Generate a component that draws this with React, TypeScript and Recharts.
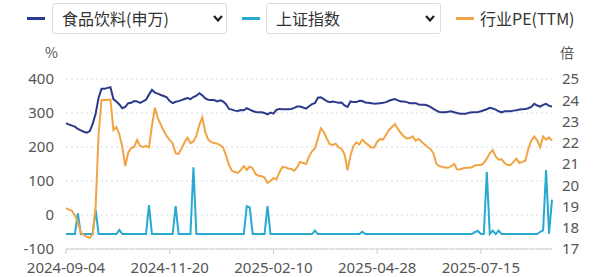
import { LineChart, Line, XAxis, YAxis, CartesianGrid } from 'recharts';

// x axis: one point per ~1.5 trading days, labels every 35 points
const tickLabels = ['2024-09-04', '2024-11-20', '2025-02-10', '2025-04-28', '2025-07-15'];
const tickIndex = [0, 35, 70, 105, 140];
const leftTicks = [-100, 0, 100, 200, 300, 400];
const rightTicks = [17, 18, 19, 20, 21, 22, 23, 24, 25];

// 食品饮料(申万), left axis (%)
const foodIndex = [
  270, 266, 263, 260, 253, 249, 245, 242, 246, 268,
  298, 345, 371, 371, 374, 376, 341, 334, 325, 314,
  318, 329, 330, 335, 334, 330, 334, 339, 354, 368,
  360, 357, 353, 350, 346, 335, 329, 333, 335, 338,
  341, 344, 341, 347, 351, 358, 352, 343, 339, 338,
  338, 334, 337, 334, 326, 312, 310, 307, 306, 309,
  308, 314, 310, 306, 303, 302, 302, 300, 296, 301,
  298, 309, 312, 311, 311, 311, 312, 315, 319, 319,
  316, 313, 320, 326, 329, 345, 346, 341, 335, 332,
  334, 332, 330, 331, 322, 318, 334, 332, 332, 336,
  335, 331, 330, 329, 327, 328, 329, 330, 332, 336,
  339, 341, 337, 334, 334, 332, 329, 329, 329, 325,
  324, 324, 322, 318, 312, 307, 303, 302, 302, 304,
  305, 302, 300, 298, 298, 298, 301, 302, 302, 303,
  305, 308, 311, 315, 313, 310, 305, 302, 305, 305,
  305, 307, 308, 310, 311, 312, 314, 318, 327, 322,
  319, 324, 327, 321, 319,
];

// 上证指数, left axis (%)
const shIndex = [
  -56, -56, -56, -56, 5, -56, -56, -56, -56, -56,
  16, -56, -56, -56, -56, -56, -56, -56, -44, -56,
  -56, -56, -56, -56, -56, -56, -56, -56, 29, -56,
  -56, -56, -56, -56, -56, -56, -56, 26, -56, -56,
  -56, -56, -56, 140, -56, -56, -56, -56, -56, -56,
  -56, -56, -56, -56, -56, -56, -56, -56, -56, -56,
  -56, 26, 22, -56, -56, -56, -56, -56, 26, -56,
  -56, -56, -56, -56, -56, -56, -56, -56, -56, -56,
  -56, -56, -56, -56, -46, -56, -56, -56, -56, -56,
  -56, -56, -56, -56, -56, -56, -56, -56, -56, -56,
  -49, -56, -56, -56, -56, -56, -56, -56, -56, -56,
  -56, -56, -56, -56, -56, -56, -56, -56, -56, -56,
  -56, -56, -56, -56, -56, -56, -56, -56, -56, -56,
  -56, -56, -56, -56, -56, -56, -56, -56, -50, -47,
  -56, -56, 127, -56, -46, -56, -46, -56, -56, -56,
  -56, -56, -56, -56, -56, -56, -56, -56, -56, -56,
  -50, -45, 132, -55, 45,
];

// 行业PE(TTM), right axis (倍)
const industryPE = [
  18.92, 18.85, 18.8, 18.58, 18.25, 17.78, 17.65, 17.58, 17.52, 17.7,
  19.0, 22.4, 24.01, 24.01, 24.01, 24.03, 22.6, 22.74, 22.4, 21.8,
  20.9, 21.55, 21.75, 21.8, 22.13, 21.85, 21.8, 21.85, 21.78, 22.8,
  23.65, 23.15, 22.85, 22.55, 22.32, 22.12, 21.97, 21.5, 21.48, 21.73,
  22.02, 22.24, 21.98, 22.06, 22.33, 22.84, 23.2, 22.5, 22.15, 22.03,
  21.99, 21.96, 21.89, 21.78, 21.4, 20.95, 20.68, 20.62, 20.58, 20.72,
  20.9, 20.72, 20.88, 20.8, 20.52, 20.45, 20.42, 20.36, 20.1, 20.2,
  20.33, 20.28, 20.6, 20.86, 20.85, 20.78, 20.78, 20.68, 20.85, 21.1,
  21.05, 21.0, 21.35, 21.6, 21.74, 22.2, 22.68, 22.5, 22.2, 21.93,
  21.9, 21.96, 21.78, 21.72, 21.45, 20.7, 21.4, 21.85, 22.02, 21.92,
  22.15, 22.0, 21.9, 21.78, 21.78, 22.05, 22.18, 22.15, 22.38, 22.6,
  22.74, 22.88, 22.65, 22.45, 22.3, 22.2, 22.22, 22.3, 22.1, 22.18,
  22.05, 21.92, 21.8, 21.7, 21.5, 21.0, 20.9, 20.86, 20.84, 20.82,
  20.9, 21.0, 20.74, 20.75, 20.8, 20.82, 20.82, 20.85, 20.93, 20.95,
  20.95, 21.05, 21.25, 21.5, 21.66, 21.35, 21.2, 21.22, 21.05, 20.95,
  20.95, 21.1, 21.25, 21.05, 21.1, 21.15, 21.7, 22.1, 22.3, 22.1,
  21.8, 22.3, 22.15, 22.25, 22.1,
];

const NAVY = '#2b3a8a';
const CYAN = '#27a9d2';
const ORANGE = '#f1a443';
const FONT = '"Noto Sans CJK SC", "Noto Sans", sans-serif';
const TICK_FONT = '"Noto Sans", sans-serif';

const data = foodIndex.map((v, i) => ({
  i,
  food: v,
  sh: shIndex[i],
  pe: industryPE[i],
}));

const Chevron = ({ left }: { left: number }) => (
  <svg style={{ position: 'absolute', left, top: 15 }} width="10" height="7" viewBox="0 0 10 7">
    <polyline points="1,1 5,5.5 9,1" fill="none" stroke="#222" strokeWidth="2.2" />
  </svg>
);

const Dash = ({ left, color }: { left: number; color: string }) => (
  <div style={{ position: 'absolute', left, top: 17, width: 18, height: 3, background: color }} />
);

const Box = ({ left }: { left: number }) => (
  <div
    style={{
      position: 'absolute',
      left,
      top: 3,
      width: 175,
      height: 31,
      border: '1px solid #dcdcdc',
      borderRadius: 3,
      boxSizing: 'border-box',
    }}
  />
);

const LegendText = ({ left, text }: { left: number; text: string }) => (
  <div
    style={{
      position: 'absolute',
      left,
      top: 3,
      height: 31,
      lineHeight: '31px',
      fontSize: 16,
      color: '#333',
      whiteSpace: 'nowrap',
    }}
  >
    {text}
  </div>
);

const App = () => {
  return (
    <div
      style={{
        position: 'absolute',
        left: 0,
        top: 0,
        width: 600,
        height: 277,
        background: '#fff',
        fontFamily: FONT,
      }}
    >
      <LineChart
        width={600}
        height={277}
        data={data}
        margin={{ top: 79, right: 0, bottom: 0, left: 0 }}
      >
        <CartesianGrid
          yAxisId="left"
          vertical={false}
          stroke="#d3d8e2"
          strokeDasharray="2 3"
        />
        <XAxis
          dataKey="i"
          type="number"
          domain={[0, 164]}
          ticks={tickIndex}
          interval={0}
          height={28}
          tickFormatter={(v: number) => tickLabels[tickIndex.indexOf(v)]}
          axisLine={{ stroke: '#c9cdd6' }}
          tickLine={{ stroke: '#c9cdd6' }}
          tickSize={5}
          tickMargin={8}
          tick={{ fill: '#555', fontSize: 15, fontFamily: TICK_FONT }}
        />
        <YAxis
          yAxisId="left"
          domain={[-100, 400]}
          ticks={leftTicks}
          interval={0}
          width={66}
          axisLine={false}
          tickLine={false}
          tickSize={0}
          tickMargin={12}
          tick={{ fill: '#555', fontSize: 15, fontFamily: TICK_FONT }}
        />
        <YAxis
          yAxisId="right"
          orientation="right"
          domain={[17, 25]}
          ticks={rightTicks}
          interval={0}
          width={48}
          axisLine={false}
          tickLine={false}
          tickSize={0}
          tickMargin={10}
          tick={{ fill: '#555', fontSize: 15, fontFamily: TICK_FONT }}
        />
        <Line
          yAxisId="left"
          type="linear"
          dataKey="food"
          stroke={NAVY}
          strokeWidth={2}
          dot={false}
          isAnimationActive={false}
        />
        <Line
          yAxisId="left"
          type="linear"
          dataKey="sh"
          stroke={CYAN}
          strokeWidth={2}
          dot={false}
          isAnimationActive={false}
        />
        <Line
          yAxisId="right"
          type="linear"
          dataKey="pe"
          stroke={ORANGE}
          strokeWidth={2}
          dot={false}
          isAnimationActive={false}
        />
      </LineChart>

      <Dash left={27} color={NAVY} />
      <Box left={52} />
      <LegendText left={62} text="食品饮料(申万)" />
      <Chevron left={213} />

      <Dash left={242} color={CYAN} />
      <Box left={266} />
      <LegendText left={276} text="上证指数" />
      <Chevron left={425} />

      <Dash left={456} color={ORANGE} />
      <LegendText left={480} text="行业PE(TTM)" />

      <div style={{ position: 'absolute', left: 45, top: 42, fontSize: 14, color: '#555' }}>%</div>
      <div style={{ position: 'absolute', left: 560, top: 42, fontSize: 14, color: '#555' }}>倍</div>
    </div>
  );
};

export default App;
